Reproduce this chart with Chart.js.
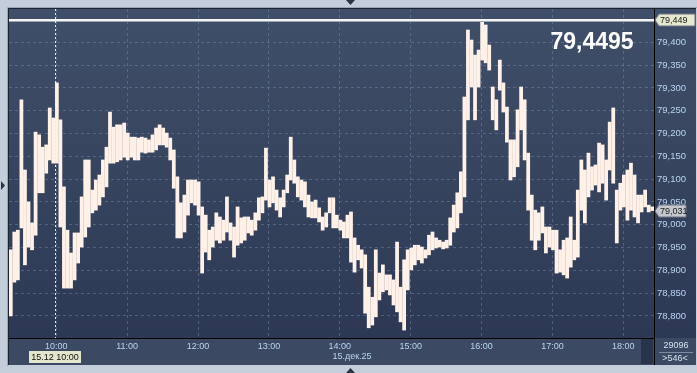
<!DOCTYPE html>
<html>
<head>
<meta charset="utf-8">
<title>USD/RUB 15.12.25</title>
<script src="https://cdn.jsdelivr.net/npm/chart.js"></script>
<style>
  body { margin: 0; background: #c4cedb; }
  canvas { display: block; }
</style>
</head>
<body>
<canvas id="quotes" width="697" height="373"></canvas>
<script>
// 3-minute slots starting at 9:20, high/low of each slot
const startMinute = 560;
const barStep = 3;
const highs = [
  78.945, 78.984, 78.988, 79.274, 79.120, 79.050, 79.004, 79.203, 79.197, 79.170,
  79.175, 79.256, 79.234, 79.311, 79.230, 79.083, 78.988, 78.938, 78.982, 78.982,
  79.061, 79.142, 79.142, 79.076, 79.098, 79.109, 79.142, 79.170, 79.247, 79.214,
  79.219, 79.219, 79.223, 79.201, 79.192, 79.192, 79.190, 79.192, 79.190, 79.186,
  79.197, 79.212, 79.219, 79.212, 79.201, 79.190, 79.164, 79.105, 79.048, 79.065,
  79.098, 79.098, 79.098, 79.094, 79.039, 79.021, 78.988, 78.995, 79.026, 79.017,
  79.010, 79.061, 79.004, 78.995, 79.039, 79.015, 79.017, 79.017, 79.010, 79.026,
  79.059, 79.061, 79.168, 79.098, 79.105, 79.076, 79.059, 79.076, 79.109, 79.192,
  79.142, 79.105, 79.098, 79.094, 79.065, 79.050, 79.054, 79.037, 79.017, 79.026,
  79.059, 79.059, 79.021, 79.010, 79.006, 79.021, 79.028, 78.971, 78.955, 78.945,
  78.934, 78.863, 78.841, 78.945, 78.894, 78.912, 78.890, 78.890, 78.879, 78.962,
  78.863, 78.923, 78.945, 78.949, 78.955, 78.955, 78.951, 78.945, 78.977, 78.984,
  78.971, 78.966, 78.962, 78.966, 79.015, 79.043, 79.070, 79.116, 79.280, 79.427,
  79.405, 79.372, 79.383, 79.449, 79.438, 79.394, 79.302, 79.274, 79.361, 79.311,
  79.258, 79.186, 79.186, 79.252, 79.302, 79.274, 79.157, 79.065, 79.032, 79.026,
  79.039, 78.995, 78.995, 78.988, 78.988, 78.945, 78.966, 78.971, 79.017, 78.966,
  79.076, 79.142, 79.120, 79.157, 79.127, 79.131, 79.179, 79.175, 79.142, 79.225,
  79.256, 79.076, 79.091, 79.109, 79.120, 79.135, 79.109, 79.065, 79.065, 79.076,
  79.043, 79.039
];
const lows = [
  78.800, 78.874, 78.879, 78.993, 78.912, 78.951, 78.945, 78.977, 79.070, 79.070,
  79.113, 79.142, 79.135, 79.135, 78.995, 78.861, 78.861, 78.861, 78.879, 78.916,
  78.951, 78.973, 78.995, 79.026, 79.032, 79.043, 79.061, 79.083, 79.135, 79.135,
  79.138, 79.142, 79.148, 79.142, 79.148, 79.142, 79.142, 79.159, 79.157, 79.159,
  79.159, 79.164, 79.175, 79.175, 79.170, 79.142, 79.080, 78.971, 78.971, 78.984,
  79.021, 79.048, 79.043, 79.021, 78.894, 78.940, 78.923, 78.951, 78.966, 78.960,
  78.966, 78.984, 78.966, 78.929, 78.955, 78.960, 78.966, 78.982, 78.977, 78.988,
  79.010, 79.026, 79.054, 79.039, 79.048, 79.032, 79.017, 79.039, 79.070, 79.098,
  79.091, 79.061, 79.054, 79.039, 79.017, 79.015, 79.015, 79.006, 78.988, 78.995,
  79.026, 78.993, 78.993, 78.988, 78.971, 78.971, 78.918, 78.896, 78.923, 78.905,
  78.806, 78.774, 78.780, 78.798, 78.835, 78.853, 78.857, 78.846, 78.824, 78.809,
  78.787, 78.769, 78.857, 78.901, 78.912, 78.923, 78.916, 78.927, 78.934, 78.945,
  78.949, 78.951, 78.947, 78.949, 78.955, 78.984, 78.993, 79.026, 79.061, 79.230,
  79.302, 79.230, 79.302, 79.361, 79.355, 79.339, 79.230, 79.208, 79.295, 79.247,
  79.181, 79.098, 79.105, 79.127, 79.208, 79.142, 79.032, 78.966, 78.945, 78.966,
  78.982, 78.938, 78.951, 78.945, 78.894, 78.896, 78.890, 78.883, 78.907, 78.923,
  78.929, 79.032, 79.004, 79.061, 79.076, 79.087, 79.072, 79.091, 79.054, 79.120,
  79.091, 78.960, 79.032, 79.039, 79.010, 79.032, 79.017, 79.004, 79.028, 79.039,
  79.028, 79.031
];
const priceTicks = [78.80, 78.85, 78.90, 78.95, 79.00, 79.05, 79.10, 79.15, 79.20, 79.25, 79.30, 79.35, 79.40];
const hourTicks = [600, 660, 720, 780, 840, 900, 960, 1020, 1080];

const levelPrice = 79.449;
const lastPrice = 79.031;
const bigPrice = "79,4495";
const cursorMinute = 600;
const cursorLabel = "15.12 10:00";
const dateLabel = "15.дек.25";
const volumeLabel = "29096";
const barsLabel = ">546<";

const axisColor = "#b8d4f2";
const gridColor = "rgba(130,150,185,0.4)";
const fontName = "'Liberation Sans', Arial, sans-serif";

const fmtPrice = (v) => v.toFixed(3).replace(".", ",");

function arrowBox(ctx, y, text, fill, x0, x1) {
  ctx.fillStyle = fill;
  ctx.strokeStyle = "#6f7480";
  ctx.beginPath();
  ctx.moveTo(x0, y);
  ctx.lineTo(x0 + 4, y - 6);
  ctx.lineTo(x1, y - 6);
  ctx.lineTo(x1, y + 6);
  ctx.lineTo(x0 + 4, y + 6);
  ctx.closePath();
  ctx.fill();
  ctx.stroke();
  ctx.fillStyle = "#1a1a1a";
  ctx.font = "9px " + fontName;
  ctx.textAlign = "left";
  ctx.textBaseline = "middle";
  ctx.fillText(text, x0 + 5, y + 0.5);
}

function triangle(ctx, pts) {
  ctx.fillStyle = "#2b3241";
  ctx.beginPath();
  ctx.moveTo(pts[0], pts[1]);
  ctx.lineTo(pts[2], pts[3]);
  ctx.lineTo(pts[4], pts[5]);
  ctx.closePath();
  ctx.fill();
}

const terminalLook = {
  id: "terminalLook",
  beforeDraw(chart) {
    const ctx = chart.ctx;
    const a = chart.chartArea;
    ctx.save();
    ctx.fillStyle = "#c4cedb";
    ctx.fillRect(0, 0, chart.width, chart.height);
    // panel
    const g = ctx.createLinearGradient(0, a.top, 0, a.bottom);
    g.addColorStop(0, "#404f69");
    g.addColorStop(1, "#2d3954");
    ctx.fillStyle = g;
    ctx.fillRect(8, 8, 688, a.bottom - 8);
    ctx.fillStyle = "#3c4963";
    ctx.fillRect(8, a.bottom, 688, 365 - a.bottom);
    ctx.fillStyle = "#28344c";
    ctx.fillRect(641, a.bottom + 1, 12, 25);
    ctx.strokeStyle = "#1b2230";
    ctx.lineWidth = 1;
    ctx.beginPath();
    ctx.moveTo(8.5, 365);
    ctx.lineTo(8.5, 8.5);
    ctx.lineTo(696, 8.5);
    ctx.stroke();
    ctx.strokeStyle = "#9aa6b6";
    ctx.beginPath();
    ctx.moveTo(7.5, 366);
    ctx.lineTo(7.5, 7.5);
    ctx.lineTo(697, 7.5);
    ctx.stroke();
    ctx.restore();
  },
  afterDraw(chart) {
    const ctx = chart.ctx;
    const a = chart.chartArea;
    const xs = chart.scales.x;
    const ys = chart.scales.y;
    ctx.save();

    // price level line
    const ly = Math.round(ys.getPixelForValue(levelPrice));
    ctx.fillStyle = "#f4f4f4";
    ctx.fillRect(a.left, ly - 1, a.right - a.left, 2);
    ctx.fillStyle = "#9ea6b2";
    ctx.fillRect(a.left, ly + 1, a.right - a.left, 1);

    // cursor line
    const cx = Math.round(xs.getPixelForValue(cursorMinute)) - 0.5;
    ctx.strokeStyle = "#e8ecf2";
    ctx.setLineDash([2, 2]);
    ctx.beginPath();
    ctx.moveTo(cx, a.top);
    ctx.lineTo(cx, a.bottom);
    ctx.stroke();
    ctx.setLineDash([]);

    // axis divider down to the bottom
    ctx.strokeStyle = "#000";
    ctx.beginPath();
    ctx.moveTo(a.right + 0.5, a.bottom);
    ctx.lineTo(a.right + 0.5, 365);
    ctx.stroke();

    // big price
    ctx.fillStyle = "#ffffff";
    ctx.font = "bold 23px " + fontName;
    ctx.textAlign = "center";
    ctx.textBaseline = "alphabetic";
    ctx.fillText(bigPrice, 592, 49);

    // right axis markers
    arrowBox(ctx, ly, fmtPrice(levelPrice), "#e6e9cf", a.right + 1, 695);
    arrowBox(ctx, Math.round(ys.getPixelForValue(lastPrice)), fmtPrice(lastPrice), "#c4c8cd", a.right + 1, 686);

    // cursor time box
    ctx.fillStyle = "#e3e6cb";
    ctx.fillRect(29, 351, 52, 12);
    ctx.fillStyle = "#111";
    ctx.font = "9px " + fontName;
    ctx.textAlign = "center";
    ctx.textBaseline = "middle";
    ctx.fillText(cursorLabel, 55, 357.5);

    // date under the time axis
    ctx.fillStyle = axisColor;
    ctx.fillText(dateLabel, 352, 357);

    // bottom right counters
    ctx.fillStyle = "#d6e2ef";
    ctx.fillText(volumeLabel, 676, 346);
    ctx.fillText(barsLabel, 675, 358.5);
    ctx.fillStyle = "#7d8ba2";
    ctx.fillRect(659, 352, 34, 1);

    // frame arrows
    triangle(ctx, [346, 0, 355, 0, 350.5, 5]);
    triangle(ctx, [346, 373, 355, 373, 350.5, 368]);
    triangle(ctx, [1, 181, 1, 190, 5, 185.5]);
    ctx.restore();
  }
};

const bars = highs.map((h, i) => ({
  x: startMinute + barStep * (i + 0.5),
  y: [lows[i], h]
}));

new Chart(document.getElementById("quotes"), {
  type: "bar",
  data: {
    datasets: [{
      data: bars,
      backgroundColor: "#fff1e8",
      borderWidth: 0,
      barThickness: 3.1
    }]
  },
  options: {
    responsive: false,
    animation: false,
    layout: { padding: { left: 9, top: 9 } },
    plugins: { legend: { display: false }, tooltip: { enabled: false } },
    scales: {
      x: {
        type: "linear",
        offset: false,
        min: 560,
        max: 1106,
        afterBuildTicks: (axis) => { axis.ticks = hourTicks.map((v) => ({ value: v })); },
        afterFit: (axis) => { axis.height = 35; },
        grid: { color: gridColor, drawTicks: false, offset: false },
        border: { color: "#000", dash: [3, 3] },
        ticks: {
          color: axisColor,
          font: { family: fontName, size: 9 },
          padding: 3,
          maxRotation: 0,
          callback: (v) => Math.floor(v / 60) + ":00"
        }
      },
      y: {
        position: "right",
        min: 78.7516,
        max: 79.473,
        afterBuildTicks: (axis) => { axis.ticks = priceTicks.map((v) => ({ value: v })); },
        afterFit: (axis) => { axis.width = 43; },
        grid: { color: gridColor, drawTicks: false },
        border: { color: "#000", dash: [3, 3] },
        ticks: {
          color: axisColor,
          font: { family: fontName, size: 9.5 },
          padding: 3,
          callback: (v) => fmtPrice(v)
        }
      }
    }
  },
  plugins: [terminalLook]
});
</script>
</body>
</html>
